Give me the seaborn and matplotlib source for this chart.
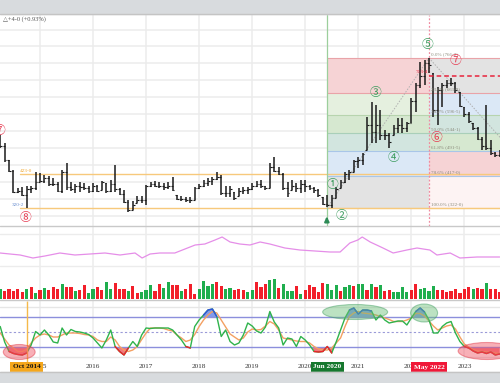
import numpy as np
import matplotlib
matplotlib.use('Agg')
import matplotlib.pyplot as plt
import seaborn as sns
from matplotlib.patches import Ellipse, Rectangle

sns.set_theme(style='white')
plt.rcParams['font.family'] = ['Liberation Serif', 'DejaVu Sans']

# month index, 0 = Jan 2015 (Apr 2014 .. Sep 2023)
months = list(range(-9, 105))
highs = [538, 514, 464, 435, 381, 384, 387, 387, 429, 426, 420, 417, 411, 399, 435, 455, 399, 393,
         399, 396, 387, 396, 390, 402, 396, 405, 449, 381, 375, 346, 343, 358, 358, 390, 399, 402,
         399, 396, 399, 414, 360, 358, 355, 355, 384, 393, 405, 411, 414, 429, 420, 387, 387, 369,
         381, 384, 384, 396, 402, 405, 387, 455, 473, 443, 426, 399, 405, 396, 405, 405, 390, 384,
         378, 355, 360, 360, 384, 405, 429, 435, 464, 473, 485, 591, 636, 627, 612, 553, 544, 568,
         588, 588, 577, 648, 692, 754, 760, 766, 722, 680, 692, 701, 707, 695, 665, 621, 606, 574,
         562, 532, 627, 523, 488, 494]
lows = [500, 458, 429, 366, 366, 358, 322, 366, 375, 399, 396, 387, 387, 369, 366, 375, 372, 366,
        369, 375, 366, 369, 369, 375, 366, 369, 369, 360, 337, 310, 316, 337, 337, 331, 384, 384,
        381, 375, 378, 372, 346, 343, 340, 337, 346, 378, 384, 387, 390, 405, 360, 355, 355, 346,
        358, 363, 363, 375, 384, 381, 375, 381, 429, 420, 375, 355, 375, 369, 366, 369, 375, 366,
        355, 331, 325, 322, 352, 381, 396, 405, 429, 440, 449, 494, 514, 514, 523, 523, 500, 538,
        544, 544, 547, 574, 606, 677, 686, 722, 591, 568, 621, 677, 683, 663, 621, 591, 574, 553,
        523, 494, 494, 479, 473, 473]
closes = [505, 465, 432, 370, 372, 360, 377, 380, 400, 402, 410, 393, 393, 373, 430, 383, 377, 388,
          383, 380, 373, 387, 373, 398, 373, 392, 377, 363, 340, 317, 330, 346, 346, 387, 392, 388,
          387, 384, 387, 376, 350, 350, 345, 345, 382, 387, 397, 402, 408, 413, 366, 366, 377, 353,
          372, 374, 377, 387, 392, 387, 382, 444, 433, 423, 380, 366, 387, 382, 392, 387, 380, 374,
          361, 335, 330, 351, 377, 398, 424, 429, 460, 465, 481, 569, 548, 569, 538, 538, 517, 558,
          569, 558, 574, 640, 687, 713, 750, 745, 611, 672, 687, 692, 692, 672, 625, 600, 579, 558,
          527, 506, 501, 486, 480, 486]
volume = [32, 25, 30, 25, 32, 22, 30, 38, 18, 27, 35, 27, 38, 30, 48, 37, 37, 25, 27, 42, 18, 30,
          37, 28, 53, 30, 50, 32, 30, 25, 40, 18, 22, 28, 42, 25, 47, 35, 52, 42, 42, 25, 30, 48,
          17, 30, 55, 40, 45, 52, 40, 30, 35, 27, 30, 28, 22,
          28, 52, 38, 48, 60, 63, 35, 45, 25, 25, 40, 17, 28, 43, 38, 22, 50, 45, 28, 42, 25, 38,
          42, 40, 45, 45, 27, 45, 38, 42, 25, 28, 22, 22, 37, 22, 28, 48, 30, 35, 25, 40, 28, 28,
          22, 25, 32, 20, 30, 37, 32, 35, 32, 50, 32, 32, 22]
vol_up = 'grrrrrgrgrgrrrgrrgrrggrrggrrrgrrgggrrggrrgrrrggggrrggrrrg' \
         'grrrggrgggrgrrrrrgggrggrggrgrgrrggggrrggggrrrrrrrrgrr'
stoch_k = [61, 30, 11, 7, 5, 4, 8, 24, 51, 44, 54, 44, 30, 28, 58, 44, 55, 51, 50, 48, 45, 38, 28,
           18, 34, 54, 21, 11, 4, 18, 31, 21, 44, 58, 57, 58, 58, 58, 58, 54, 44, 34, 21, 18, 61,
           74, 84, 94, 96, 81, 41, 54, 31, 24, 28, 44, 68,
           62, 52, 48, 60, 91, 70, 58, 24, 38, 36, 21, 41, 34, 24, 11, 10, 11, 21, 8, 30, 54, 78,
           94, 98, 86, 94, 94, 92, 74, 84, 74, 68, 70, 72, 72, 64, 78, 91, 98, 90, 74, 48, 48, 61,
           68, 71, 48, 31, 21, 18, 12, 8, 10, 7, 10, 4, 6]
stoch_d = [48, 36, 24, 18, 11, 11, 15, 28, 38, 44, 46, 44, 40, 40, 44, 48, 48, 48, 47, 45, 44, 41,
           34, 31, 31, 40, 34, 21, 14, 11, 14, 21, 35, 48, 58, 58, 58, 57, 54, 52, 44, 38, 31, 34,
           45, 61, 74, 84, 91, 88, 74, 60, 46, 40, 34, 38, 50,
           56, 54, 55, 62, 71, 66, 54, 38, 36, 34, 32, 31, 31, 28, 21, 16, 14, 14, 18, 28, 38, 61,
           81, 88, 91, 88, 87, 86, 84, 81, 78, 75, 71, 71, 71, 74, 78, 87, 87, 82, 72, 62, 54, 58,
           62, 64, 56, 40, 26, 20, 15, 12, 11, 10, 9, 8, 7]
oi_months = [-9.05, -6.8, -4.5, -1.6, 1.1, 4.5, 7.9, 11.3, 14.7, 18.1, 21.5, 23.1, 24.9, 27.1, 30.5,
             32.8, 35.1, 37.3, 39.6, 41.2, 43.0, 45.2, 47.5, 49.8, 52.0, 55.4, 58.8, 62.2, 65.6,
             67.9, 70.1, 71.9, 72.9, 74.7, 77.6, 79.9, 83.0, 85.3, 86.7, 88.2, 89.8, 92.8, 95.0,
             98.9, 104.0]
oi_values = [1375, 1350, 1325, 1250, 1300, 1375, 1325, 1350, 1375, 1325, 1375, 1250, 1350, 1375, 1375,
             1475, 1575, 1600, 1700, 1775, 1650, 1600, 1575, 1650, 1600, 1500, 1450, 1425, 1400,
             1400, 1625, 1700, 1775, 1650, 1500, 1375, 1450, 1500, 1475, 1450, 1325, 1375, 1250,
             1275, 1275]
years = ['2015', '2016', '2017', '2018', '2019', '2020', '2021', '2022', '2023']
fib_pct = [0, 23.6, 38.2, 50, 61.8, 78.6, 100]
fib_high, fib_low = 766.25, 322.0
fib_text = ['0.0% (766-2)', '23.6% (661-3)', '38.2% (596-5)', '50.0% (544-1)',
            '61.8% (491-5)', '78.6% (417-0)', '100.0% (322-0)']

W, H = 500, 383
XL = (-9.05, 104.07)


def rect(y0, y1):
    return [0, 1 - y1 / H, 1, (y1 - y0) / H]


fig = plt.figure(figsize=(5, 3.83), dpi=100)
fig.patch.set_facecolor('white')
fig.patches.append(Rectangle((0, 1 - 14 / H), 1, 14 / H, transform=fig.transFigure,
                             color='#d8dbde', zorder=0))
fig.patches.append(Rectangle((0, 0), 1, 11 / H, transform=fig.transFigure,
                             color='#d8dbde', zorder=0))

ax = fig.add_axes(rect(15, 226))
ax_oi = fig.add_axes(rect(226, 268))
ax_v = fig.add_axes(rect(268, 300))
ax_s = fig.add_axes(rect(300, 360))
year_pos = [12 * i for i in range(len(years))]
for a in (ax, ax_oi, ax_v, ax_s):
    a.set_xlim(*XL)
    for s in a.spines.values():
        s.set_visible(False)
    a.set_xticks(year_pos)
    a.set_xticklabels([])
    a.tick_params(length=0)
    a.set_yticklabels([])
    a.grid(axis='x', color='#ececec', lw=1.1)
    a.set_facecolor('none')

m = np.array(months, dtype=float)
hi, lo, cl = np.array(highs), np.array(lows), np.array(closes)
op = np.clip(np.r_[cl[0], cl[:-1]], lo, hi)

# ---- price panel
ax.set_ylim(269, 893)
ax.set_yticks(range(300, 900, 50))
ax.grid(axis='y', color='#ececec', lw=1.1)

lv = [fib_high - p / 100 * (fib_high - fib_low) for p in fib_pct]
left_cols = ['#f6d3d5', '#e5f0df', '#d6e8d0', '#d2e5df', '#dbe8f6', '#e3e3e3']
right_cols = ['#e3e3e3', '#dbe8f6', '#d2e5df', '#d6e8d0', '#f6d3d5', '#fdf3f3']
for i in range(6):
    ax.fill_between([64.9, 88.0], lv[i + 1], lv[i], color=left_cols[i], lw=0, zorder=1)
    ax.fill_between([88.0, 104.5], lv[i + 1], lv[i], color=right_cols[i], lw=0, zorder=1)
line_cols = ['#e9a3a8', '#e9a3a8', '#b7d4ae', '#a9cfb9', '#a9c6e8', '#a9c6e8', '#f2c98a']
for i, y in enumerate(lv):
    ax.hlines(y, 64.9, 104.5, color=line_cols[i], lw=0.8, zorder=1.5)
    ax.text(88.4, y + 6, fib_text[i], fontsize=3.6, color='#8a8a7a', va='bottom', zorder=5)

ax.axhline(423, xmin=(-4.5 - XL[0]) / (XL[1] - XL[0]), color='#f7c97c', lw=1.0, zorder=1.6)
ax.axhline(322, xmin=(-4.5 - XL[0]) / (XL[1] - XL[0]), color='#f7c97c', lw=1.0, zorder=1.6)
ax.text(-4.5, 430, '423-0', fontsize=3.8, color='#f0a830', zorder=5)
ax.text(-6.5, 328, '320-2', fontsize=3.8, color='#6a8fd0', zorder=5)

ax.axvline(64.9, color='#9ccf9c', lw=0.9, zorder=1.7)
ax.axvline(88.0, color='#f08aa0', lw=0.9, ls=(0, (1.5, 1.5)), zorder=1.7)
ax.plot([64.9, 88.0], [322, 766], color='#b0b0b0', lw=0.7, ls=(0, (1.5, 1.5)), zorder=1.8)
ax.plot([88.0, 104.5], [766, 525], color='#b0b0b0', lw=0.7, ls=(0, (1.5, 1.5)), zorder=1.8)
ax.hlines(713.5, 88.0, 104.5, color='#e8243c', lw=1.1, ls=(0, (3, 2)), zorder=4)
ax.text(87.8, 722, '713-4', fontsize=3.8, color='#e8243c', ha='right', zorder=5)

ax.vlines(m, lo, hi, color='#1a1a1a', lw=1.1, zorder=3)
ax.hlines(op, m - 0.4, m, color='#1a1a1a', lw=0.8, zorder=3)
ax.hlines(cl, m, m + 0.4, color='#1a1a1a', lw=0.8, zorder=3)

green_c, red_c = '#3a9b5c', '#e63950'
marks = [('①', 66.1, 393, green_c), ('②', 68.1, 301, green_c), ('③', 76.0, 665, green_c),
         ('④', 79.9, 473, green_c), ('⑤', 87.6, 805, green_c), ('⑥', 89.8, 532, red_c),
         ('⑦', 93.9, 757, red_c), ('⑧', -3.2, 295, red_c), ('⑦', -9.1, 550, red_c)]
for t, x, y, c in marks:
    ax.text(x, y, t, fontsize=8.5, color=c, ha='center', va='center', zorder=6,
            family=['Noto Sans CJK JP', 'DejaVu Sans'])
ax.annotate('', xy=(64.9, 305), xytext=(64.9, 278),
            arrowprops=dict(arrowstyle='-|>', color='#2e8b57', lw=1.6, mutation_scale=6), zorder=6)
fig.text(3 / W, 1 - 19 / H, '△+4-0 (+0.93%)', fontsize=4.6, color='#555555', va='center',
         family=['Liberation Serif', 'DejaVu Sans'])

# ---- open interest style line
ax_oi.set_ylim(1000, 2050)
ax_oi.set_yticks([])
ax_oi.axhline(1850, color='#ececec', lw=1.0)
ax_oi.axhline(1050, color='#ececec', lw=1.0)
sns.lineplot(x=oi_months, y=oi_values, ax=ax_oi, color='#e58ee8', lw=0.9, legend=False)
ax_oi.set_xlabel('')
ax_oi.set_ylabel('')

# ---- volume
ax_v.set_ylim(-3, 96)
ax_v.set_yticks([])
vcol = ['#1fae4e' if c == 'g' else '#f21f2a' for c in vol_up]
ax_v.bar(m, volume, width=0.72, color=vcol, lw=0)

# ---- stochastic
ax_s.set_ylim(-6, 114)
ax_s.set_yticks([])
k = np.array(stoch_k, dtype=float)
d = np.array(stoch_d, dtype=float)
ax_s.axhline(100, color='#e6e6e6', lw=1.0)
ax_s.axhline(0, color='#e6e6e6', lw=1.0)
ax_s.axhline(80, color='#8c8fdc', lw=1.0)
ax_s.axhline(20, color='#8c8fdc', lw=1.0)
ax_s.axhline(50, color='#9a9ad8', lw=0.8, ls=(0, (2, 2)))
ax_s.fill_between(m, k, 20, where=k < 20, interpolate=True, color='#f24a50', alpha=0.75, lw=0)
ax_s.fill_between(m, k, 80, where=k > 80, interpolate=True, color='#5a79e6', alpha=0.75, lw=0)
sns.lineplot(x=m, y=d, ax=ax_s, color='#f4a062', lw=1.0, legend=False)
sns.lineplot(x=m, y=k, ax=ax_s, color='#2fb34c', lw=1.0, legend=False)
ax_s.plot(m, np.where(k <= 21, k, np.nan), color='#f21f2a', lw=1.0)
ax_s.plot(m, np.where(k >= 79, k, np.nan), color='#3050e0', lw=1.0)
ax_s.set_xlabel('')
ax_s.set_ylabel('')
for (cx, cy, w, h, fc, ec) in [(-4.7, 10, 7.2, 30, '#f05060', '#e0303f'),
                               (71.3, 90, 14.7, 30, '#6cbf78', '#3a9b5c'),
                               (86.9, 88, 6.1, 36, '#6cbf78', '#3a9b5c'),
                               (101.1, 12, 13, 34, '#f05060', '#e0303f')]:
    ax_s.add_patch(Ellipse((cx, cy), w, h, facecolor=fc, edgecolor=ec, alpha=0.45, lw=0.8,
                           zorder=5, clip_on=False))
ax_s.vlines(-3, -10, 112, color='#f5b94a', lw=1.0, zorder=4, clip_on=False)

for yr, x in zip(years, year_pos):
    ax_s.text(x, -20, yr, fontsize=5.2, ha='center', va='center', color='#333333', clip_on=False)
for txt, x, fc, tc in [('Oct 2014', -3.0, '#f5a71c', '#111111'), ('Jun 2020', 65.0, '#16782e', 'white'),
                       ('May 2022', 88.0, '#f01838', 'white')]:
    ax_s.text(x, -20, txt, fontsize=5.2, ha='center', va='center', color=tc, fontweight='bold',
              clip_on=False, zorder=8,
              bbox=dict(boxstyle='square,pad=0.35', fc=fc, ec=fc, lw=0))

for yy, c in [(226, '#c9c9c9'), (300, '#c9c9c9'), (372, '#c4c4c4'), (14, '#c4c4c4')]:
    fig.add_artist(plt.Line2D([0, 1], [1 - yy / H] * 2, transform=fig.transFigure, color=c, lw=1.0))

fig.savefig('out.png', dpi=100)
